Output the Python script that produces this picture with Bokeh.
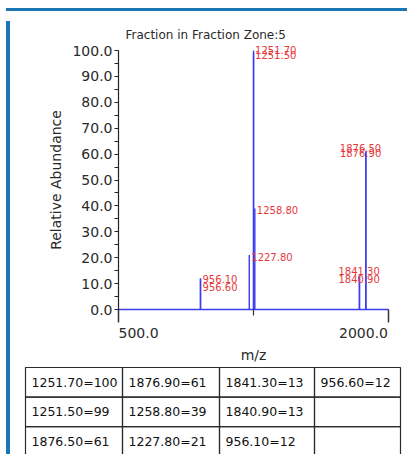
from bokeh.plotting import figure
from bokeh.models import Range1d, FixedTicker, PrintfTickFormatter, Div, Spacer, ColumnDataSource
from bokeh.layouts import column, row
from bokeh.core.properties import value
from bokeh.embed import file_html
from bokeh.resources import INLINE

# ---- data ----
mz = [1251.70, 1251.50, 1876.50, 1876.90, 1258.80, 1227.80, 1841.30, 1840.90, 956.10, 956.60]
abundance = [100, 99, 61, 61, 39, 21, 13, 13, 12, 12]
peak_labels = [f"{m:.2f}" for m in mz]

y_ticks = [0, 10, 20, 30, 40, 50, 60, 70, 80, 90, 100]
y_minor = [5, 15, 25, 35, 45, 55, 65, 75, 85, 95]
x_ticks = [500, 2000]
x_minor = [1250]
x_tick_labels = ["500.0", "2000.0"]

title_text = "Fraction in Fraction Zone:5"
x_title = "m/z"
y_title = "Relative Abundance"

# ---- style ----
FONT = "DejaVu Sans"
BLUE = "#3c3cf0"
RED = "#e6393c"
FRAME_BLUE = "#1a76b4"
TXT = "#2a2a2a"
label_dx = [1.5, 1.5, -26, -26, 2, 2, -21, -21, 2, 2]
label_dy = [-4.5, -2.0, -8, -3, -2, -2.5, -8.5, -1, -3, 5]

W = 397
H1 = 349
H2 = 91

p1 = figure(width=W, height=H1, output_backend="svg", toolbar_location=None,
            x_range=Range1d(-73.27, 2136.3), y_range=Range1d(-21.62, 103.09),
            min_border_left=0, min_border_right=0, min_border_top=26, min_border_bottom=0,
            background_fill_color="white", border_fill_color="white")
p1.outline_line_color = None
p1.xgrid.visible = False
p1.ygrid.visible = False

p1.title.text = title_text
p1.title.text_font = FONT
p1.title.text_font_size = "12px"
p1.title.text_font_style = "normal"
p1.title.text_color = TXT
p1.title.align = "left"
p1.title.offset = 110
p1.title.standoff = 2

xa = p1.xaxis[0]
xa.fixed_location = 0
xa.bounds = (500, 2000)
xa.ticker = FixedTicker(ticks=x_ticks, minor_ticks=x_minor)
xa.axis_line_color = BLUE
xa.axis_line_width = 1.5
xa.major_tick_out = 13
xa.major_tick_in = 0
xa.major_tick_line_color = "#333333"
xa.major_tick_line_width = 1.5
xa.minor_tick_out = 6
xa.minor_tick_in = 0
xa.minor_tick_line_color = "#333333"
xa.minor_tick_line_width = 1.2
xa.major_label_text_alpha = 0
xa.major_label_text_font = FONT
xa.major_label_text_font_size = "14px"
xa.axis_label = x_title
xa.axis_label_text_font = FONT
xa.axis_label_text_font_size = "14px"
xa.axis_label_text_font_style = "normal"
xa.axis_label_text_color = TXT
xa.axis_label_standoff = 24

ya = p1.yaxis[0]
ya.fixed_location = 500
ya.bounds = (0, 100)
ya.ticker = FixedTicker(ticks=y_ticks, minor_ticks=y_minor)
ya.formatter = PrintfTickFormatter(format="%.1f")
ya.axis_line_color = "#222222"
ya.axis_line_width = 1.2
ya.major_tick_out = 4
ya.major_tick_in = 0
ya.minor_tick_out = 4
ya.minor_tick_in = 0
ya.major_tick_line_color = "#222222"
ya.minor_tick_line_color = "#222222"
ya.major_label_standoff = 2
ya.major_label_text_font = FONT
ya.major_label_text_font_size = "14px"
ya.major_label_text_color = TXT
ya.axis_label = y_title
ya.axis_label_text_font = FONT
ya.axis_label_text_font_size = "14px"
ya.axis_label_text_font_style = "normal"
ya.axis_label_text_color = TXT
ya.axis_label_standoff = 5

src = ColumnDataSource(dict(mz=mz, ab=abundance, base=[0] * len(mz), lbl=peak_labels,
                            dx=label_dx, dy=label_dy))
p1.segment(x0="mz", y0="base", x1="mz", y1="ab", source=src, line_color=BLUE, line_width=1.4)
p1.text(x="mz", y="ab", text="lbl", x_offset="dx", y_offset="dy", source=src,
        text_font=value(FONT), text_font_size="10px", text_color=RED,
        text_align="left", text_baseline="top")

p1.text(x=[x_ticks[0]], y=[0], text=[x_tick_labels[0]], y_offset=18,
        text_font=value(FONT), text_font_size="14px", text_color=TXT,
        text_align="left", text_baseline="top")
p1.text(x=[x_ticks[-1]], y=[0], text=[x_tick_labels[-1]], y_offset=18,
        text_font=value(FONT), text_font_size="14px", text_color=TXT,
        text_align="right", text_baseline="top")

# ---- table ----
n_rows = 3
n_cols = 4
col_widths = [97, 97, 95, 86]
row_height = 29.6
table_left = 10
table_top = 2
pad = 6

cells = [f"{m:.2f}={a}" for m, a in zip(mz, abundance)]
cells += [""] * (n_rows * n_cols - len(cells))

left, right, top, bottom, tx, ty, tt = [], [], [], [], [], [], []
for c in range(n_cols):
    x0 = table_left + sum(col_widths[:c])
    for r in range(n_rows):
        y0 = table_top + r * row_height
        left.append(x0)
        right.append(x0 + col_widths[c])
        top.append(y0)
        bottom.append(y0 + row_height)
        tx.append(x0 + pad)
        ty.append(y0 + row_height / 2)
        tt.append(cells[c * n_rows + r])

p2 = figure(width=W, height=H2, output_backend="svg", toolbar_location=None,
            x_range=Range1d(0, W), y_range=Range1d(H2, 0),
            x_axis_type=None, y_axis_type=None,
            min_border=0, min_border_left=0, min_border_right=0, min_border_top=0, min_border_bottom=0)
p2.outline_line_color = None
p2.xgrid.visible = False
p2.ygrid.visible = False
p2.quad(left=left, right=right, top=top, bottom=bottom, fill_color=None,
        line_color="#2b2b2b", line_width=1.2)
p2.text(x=tx, y=ty, text=tt, text_font=value(FONT), text_font_size="12.5px",
        text_color="#111111", text_align="left", text_baseline="middle")

top_strip = Div(width=401, height=3, styles={"background-color": FRAME_BLUE})
left_strip = Div(width=4, height=H1 + H2, styles={"background-color": FRAME_BLUE})

layout = column(
    Spacer(width=402, height=3),
    row(Spacer(width=1, height=3), top_strip),
    row(Spacer(width=1, height=H1 + H2), left_strip, column(p1, p2)),
)

open("out.html", "w").write(file_html(layout, INLINE))
